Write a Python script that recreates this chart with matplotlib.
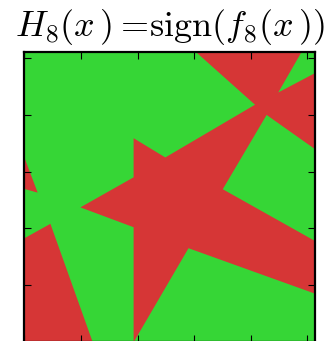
import matplotlib
matplotlib.use("Agg")
import matplotlib.pyplot as plt

plt.rcParams['mathtext.fontset'] = 'cm'

# grid extent of the classifier output
x_max, y_max = 102.6, 102.3
ticks = [0, 20, 40, 60, 80, 100]

green = '#36d636'
red = '#d63636'

# regions where sign(f_8) is negative (red), everything else is positive (green)
star_x = [60.5, 98.0, 89.7, 102.6, 102.6, 85.6, 70.1, 102.6, 102.6, 58.0,
          38.7, 38.6, 38.6, 19.8, 38.6, 38.6, 49.8, 81.5]
star_y = [102.3, 102.3, 87.9, 94.7, 68.0, 80.0, 53.8, 35.6, 17.0, 33.0,
          0.0, 0.0, 40.4, 47.4, 58.0, 71.8, 65.0, 83.6]
sliver_x = [0.0, 4.7, 0.0]
sliver_y = [65.0, 52.6, 53.9]
corner_x = [0.0, 9.2, 24.1, 0.0]
corner_y = [36.5, 41.6, 0.0, 0.0]

fig = plt.figure(figsize=(3.27, 3.41), dpi=100)
ax = fig.add_axes([0.0745, -0.0023, 0.888, 0.8507])
ax.set_facecolor(green)

for xs, ys in [(star_x, star_y), (sliver_x, sliver_y), (corner_x, corner_y)]:
    ax.fill(xs, ys, color=red, lw=0)

ax.set_xlim(0, x_max)
ax.set_ylim(0, y_max)
ax.set_xticks(ticks)
ax.set_yticks(ticks)
ax.tick_params(direction='in', length=5, width=0.8, top=True, right=True,
               labelbottom=False, labelleft=False)
for sp in ax.spines.values():
    sp.set_linewidth(1.6)

ax.set_title(r'$H_8(x\,) = \!\mathrm{sign}(f_8(x\,))$', fontsize=26, pad=11)

fig.savefig('out.png', dpi=100)
